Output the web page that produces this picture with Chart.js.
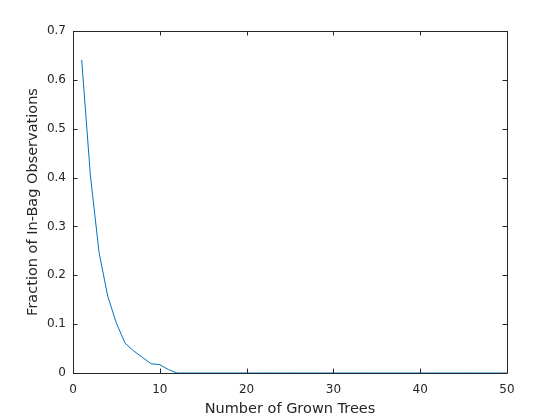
<!DOCTYPE html>
<html>
<head>
<meta charset="utf-8">
<script src="https://cdn.jsdelivr.net/npm/chart.js@4.4.1/dist/chart.umd.min.js"></script>
<style>
  html, body { margin: 0; padding: 0; background: #fff; }
  #wrap { width: 560px; height: 420px; }
</style>
</head>
<body>
<div id="wrap"><canvas id="chart" width="560" height="420"></canvas></div>
<script>
// number of grown trees (x) and fraction of in-bag observations (y)
const trees = [
  1, 2, 3, 4, 5, 6, 7, 8, 9, 10,
  11, 12, 13, 14, 15, 16, 17, 18, 19, 20,
  21, 22, 23, 24, 25, 26, 27, 28, 29, 30,
  31, 32, 33, 34, 35, 36, 37, 38, 39, 40,
  41, 42, 43, 44, 45, 46, 47, 48, 49, 50
];
const inBagFraction = [
  0.641, 0.405, 0.247, 0.157, 0.102, 0.061, 0.045, 0.032, 0.019, 0.017,
  0.007, 0, 0, 0, 0, 0, 0, 0, 0, 0,
  0, 0, 0, 0, 0, 0, 0, 0, 0, 0,
  0, 0, 0, 0, 0, 0, 0, 0, 0, 0,
  0, 0, 0, 0, 0, 0, 0, 0, 0, 0
];
const xTicks = [0, 10, 20, 30, 40, 50];
const yTicks = [0, 0.1, 0.2, 0.3, 0.4, 0.5, 0.6, 0.7];

const axisColor = "#262626";
const fontFamily = "'DejaVu Sans', sans-serif";

// matlab style box with inward ticks on all four sides
const boxPlugin = {
  id: "matlabBox",
  afterDraw(chart) {
    const ctx = chart.ctx;
    const a = chart.chartArea;
    const xs = chart.scales.x;
    const ys = chart.scales.y;
    const len = 4.5;
    ctx.save();
    ctx.strokeStyle = axisColor;
    ctx.lineWidth = 1;
    ctx.beginPath();
    ctx.rect(a.left + 0.5, a.top + 0.5, a.right - a.left, a.bottom - a.top);
    xTicks.forEach((v) => {
      const px = Math.round(xs.getPixelForValue(v)) + 0.5;
      ctx.moveTo(px, a.bottom);
      ctx.lineTo(px, a.bottom - len);
      ctx.moveTo(px, a.top);
      ctx.lineTo(px, a.top + len);
    });
    yTicks.forEach((v) => {
      const py = Math.round(ys.getPixelForValue(v)) + 0.5;
      ctx.moveTo(a.left, py);
      ctx.lineTo(a.left + len, py);
      ctx.moveTo(a.right, py);
      ctx.lineTo(a.right - len, py);
    });
    ctx.stroke();
    ctx.restore();
  },
};

const points = trees.map((t, i) => ({ x: t, y: inBagFraction[i] }));

new Chart(document.getElementById("chart"), {
  type: "line",
  data: {
    datasets: [
      {
        data: points,
        borderColor: "#0072BD",
        borderWidth: 1,
        pointRadius: 0,
        tension: 0,
        fill: false,
      },
    ],
  },
  options: {
    responsive: false,
    animation: false,
    layout: { padding: { top: 31, right: 53, left: 0, bottom: 0 } },
    plugins: { legend: { display: false }, tooltip: { enabled: false } },
    scales: {
      x: {
        type: "linear",
        min: 0,
        max: 50,
        afterBuildTicks: (s) => { s.ticks = xTicks.map((v) => ({ value: v })); },
        afterFit: (s) => { s.height = 47; },
        grid: { display: false, drawTicks: false },
        border: { display: false },
        ticks: {
          color: axisColor,
          padding: 10,
          font: { family: fontFamily, size: 12 },
          maxRotation: 0,
        },
        title: {
          display: true,
          text: "Number of Grown Trees",
          color: axisColor,
          font: { family: fontFamily, size: 14.5 },
          padding: { top: 0, bottom: 2.5 },
        },
      },
      y: {
        min: 0,
        max: 0.7,
        afterBuildTicks: (s) => { s.ticks = yTicks.map((v) => ({ value: v })); },
        afterFit: (s) => { s.width = 73; },
        grid: { display: false, drawTicks: false },
        border: { display: false },
        ticks: {
          color: axisColor,
          padding: 7,
          font: { family: fontFamily, size: 12 },
          callback: (v) => (v === 0 ? "0" : v.toFixed(1)),
        },
        title: {
          display: true,
          text: "Fraction of In-Bag Observations",
          color: axisColor,
          font: { family: fontFamily, size: 14.5 },
          padding: { top: 24.5, bottom: 0 },
        },
      },
    },
  },
  plugins: [boxPlugin],
});
</script>
</body>
</html>
